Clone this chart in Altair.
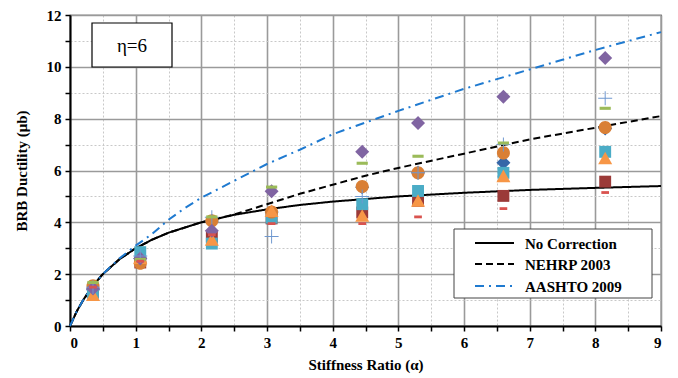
import altair as alt
import pandas as pd

# ---------------- data ----------------
alpha_pts = [0.35, 1.07, 2.16, 3.07, 4.45, 5.3, 6.6, 8.15]

series_names = ["S1", "S2", "S3", "S4", "S5", "S6", "S7", "S8", "S9"]
s1_blue_diamond = [1.40, 2.60, 4.05, 4.40, 5.35, 5.91, 6.30, 7.62]
s2_darkred_square = [1.30, 2.45, 3.45, 4.15, 4.38, 4.83, 5.02, 5.57]
s3_aqua_square = [1.28, 2.85, 3.18, 4.18, 4.70, 5.21, 5.91, 6.72]
s4_orange_circle = [1.55, 2.42, 4.06, 4.40, 5.38, 5.91, 6.68, 7.66]
s5_orange_triangle = [1.19, 2.62, 3.33, 4.44, 4.25, 4.83, 5.78, 6.47]
s6_purple_diamond = [1.45, 2.60, 3.68, 5.20, 6.72, 7.83, 8.85, 10.34]
s7_blue_plus = [1.50, 2.70, 4.20, 3.45, 5.00, 5.91, 7.00, 8.79]
s8_green_dash = [1.68, 2.57, 4.21, 5.36, 6.28, 6.55, 7.06, 8.40]
s9_red_dash = [1.50, 2.50, 3.52, 3.95, 3.95, 4.21, 4.53, 5.15]

series_values = [s1_blue_diamond, s2_darkred_square, s3_aqua_square, s4_orange_circle,
                 s5_orange_triangle, s6_purple_diamond, s7_blue_plus, s8_green_dash, s9_red_dash]
series_colors = ["#3566A8", "#9B3A38", "#4BACC6", "#D97F35", "#F79646",
                 "#8064A2", "#6F98D0", "#9BBB59", "#D9534F"]
series_shapes = [
    "M0,-1L1,0L0,1L-1,0Z",                                   # diamond
    "M-0.85,-0.85H0.85V0.85H-0.85Z",                          # square
    "M-0.85,-0.85H0.85V0.85H-0.85Z",                          # square
    "M0.93,0A0.93,0.93 0 1,1 -0.93,0A0.93,0.93 0 1,1 0.93,0Z",  # circle
    "M0,-0.95L1,0.85L-1,0.85Z",                               # triangle
    "M0,-1L1,0L0,1L-1,0Z",                                   # diamond
    "M-1,-0.07H1V0.07H-1Z M-0.07,-1H0.07V1H-0.07Z",           # plus
    "M-0.8,-0.22H0.8V0.22H-0.8Z",                             # dash
    "M-0.55,-0.2H0.55V0.2H-0.55Z",                            # small dash
]

no_corr_alpha = [0, 0.1, 0.2, 0.35, 0.5, 0.75, 1, 1.25, 1.5, 2, 2.5, 3, 3.5, 4, 5, 6, 7, 8, 9]
no_corr_mu = [0, 0.55, 1.0, 1.56, 2.0, 2.57, 3.0, 3.33, 3.6, 4.0, 4.29, 4.5, 4.67, 4.8, 5.0, 5.14, 5.25, 5.33, 5.4]

nehrp_alpha = [0, 0.1, 0.2, 0.35, 0.5, 0.75, 1, 1.25, 1.5, 2, 2.5, 3, 3.5, 4, 4.5, 5, 6, 7, 8, 9]
nehrp_mu = [0, 0.55, 1.0, 1.56, 2.0, 2.57, 3.0, 3.33, 3.6, 4.0, 4.3, 4.7, 5.1, 5.45, 5.8, 6.1, 6.65, 7.2, 7.65, 8.1]

aashto_alpha = [0, 0.1, 0.2, 0.35, 0.5, 0.75, 1, 1.25, 1.5, 1.75, 2, 2.5, 3, 3.5, 4, 5, 6, 7, 8, 9]
aashto_mu = [0, 0.55, 1.0, 1.56, 2.0, 2.6, 3.1, 3.55, 4.1, 4.55, 4.95, 5.6, 6.25, 6.8, 7.4, 8.3, 9.15, 9.9, 10.65, 11.34]

legend_labels = ["No Correction", "NEHRP 2003", "AASHTO 2009"]
legend_colors = ["#000000", "#000000", "#1F7AD0"]
legend_dashes = [[1, 0], [7, 4], [9, 5, 2, 5]]

x_ticks = [i * 0.5 for i in range(19)]
y_ticks = list(range(13))
eta_label = "η=6"

# ---------------- chart ----------------
W, H = 591, 311
SERIF = "Liberation Serif"

x_scale = alt.Scale(domain=[0, 9], nice=False)
y_scale = alt.Scale(domain=[0, 12], nice=False)

x_axis = alt.Axis(
    values=x_ticks,
    labelExpr="datum.value % 1 == 0 ? format(datum.value, 'd') : ''",
    title="Stiffness Ratio (α)",
    grid=True,
    gridDash={"condition": {"test": "datum.value % 1 != 0", "value": [2, 2]}, "value": [1, 0]},
    gridColor={"condition": {"test": "datum.value % 1 != 0", "value": "#C8C8C8"}, "value": "#9A9A9A"},
    gridWidth={"condition": {"test": "datum.value % 1 != 0", "value": 1}, "value": 1.6},
    orient="bottom",
)
y_axis = alt.Axis(
    values=y_ticks,
    labelExpr="datum.value % 2 == 0 ? format(datum.value, 'd') : ''",
    title="BRB Ductility (μb)",
    grid=True,
    gridDash={"condition": {"test": "datum.value % 2 != 0", "value": [2, 2]}, "value": [1, 0]},
    gridColor={"condition": {"test": "datum.value % 2 != 0", "value": "#C8C8C8"}, "value": "#9A9A9A"},
    gridWidth={"condition": {"test": "datum.value % 2 != 0", "value": 1}, "value": 1.6},
    orient="left",
)

def X():
    return alt.X("alpha:Q", scale=x_scale, axis=x_axis)

def Y():
    return alt.Y("mu:Q", scale=y_scale, axis=y_axis)

def line_layer(alpha, mu, color, dash):
    df = pd.DataFrame({"alpha": alpha, "mu": mu})
    return alt.Chart(df).mark_line(color=color, strokeDash=dash, strokeWidth=2).encode(x=X(), y=Y())

lines = [
    line_layer(no_corr_alpha, no_corr_mu, legend_colors[0], legend_dashes[0]),
    line_layer(nehrp_alpha, nehrp_mu, legend_colors[1], legend_dashes[1]),
    line_layer(aashto_alpha, aashto_mu, legend_colors[2], legend_dashes[2]),
]

rows = []
order = 0
for name, vals in zip(series_names, series_values):
    for a, v in zip(alpha_pts, vals):
        rows.append({"series": name, "alpha": a, "mu": v, "ord": order})
        order += 1
pts_df = pd.DataFrame(rows)

points = alt.Chart(pts_df).mark_point(filled=True, opacity=1, size=196, strokeWidth=0).encode(
    x=X(),
    y=Y(),
    color=alt.Color("series:N", scale=alt.Scale(domain=series_names, range=series_colors), legend=None),
    shape=alt.Shape("series:N", scale=alt.Scale(domain=series_names, range=series_shapes), legend=None),
    order=alt.Order("ord:Q"),
)

one = pd.DataFrame({"k": [0]})

# legend box (manual, matching the reference's boxed legend)
LX0, LX1, LY0, LY1 = 384, 582, 214, 283
legend_box = alt.Chart(one).mark_rect(fill="white", stroke="#444", strokeWidth=1).encode(
    x=alt.value(LX0), x2=alt.value(LX1), y=alt.value(LY0), y2=alt.value(LY1)
)
legend_parts = [legend_box]
row_y = [228, 249, 271]
for lab, col, dash, ry in zip(legend_labels, legend_colors, legend_dashes, row_y):
    legend_parts.append(
        alt.Chart(one).mark_rule(color=col, strokeDash=dash, strokeWidth=2).encode(
            x=alt.value(405), x2=alt.value(444), y=alt.value(ry)
        )
    )
    legend_parts.append(
        alt.Chart(pd.DataFrame({"t": [lab]})).mark_text(
            align="left", baseline="middle", font=SERIF, fontSize=15, fontWeight="bold", color="black"
        ).encode(x=alt.value(455), y=alt.value(ry + 1), text="t:N")
    )

eta_box = alt.Chart(one).mark_rect(fill="white", stroke="black", strokeWidth=1.2).encode(
    x=alt.value(22), x2=alt.value(102), y=alt.value(8), y2=alt.value(52)
)
eta_text = alt.Chart(pd.DataFrame({"t": [eta_label]})).mark_text(
    align="center", baseline="middle", font=SERIF, fontSize=19, color="black"
).encode(x=alt.value(62), y=alt.value(31), text="t:N")

chart = alt.layer(*lines, points, *legend_parts, eta_box, eta_text).properties(
    width=W, height=H,
    autosize=alt.AutoSizeParams(type="none"),
    padding={"left": 62, "top": 7, "right": 9, "bottom": 52},
).configure_view(
    stroke="#222", strokeWidth=1.2
).configure_axis(
    domainColor="black", domainWidth=2,
    tickColor="black", tickSize=5, tickWidth=1.5,
    labelFont=SERIF, labelFontSize=15, labelFontWeight="bold", labelColor="black",
    labelPadding=4,
    titleFont=SERIF, titleFontSize=15, titleFontWeight="bold", titleColor="black",
).configure_axisX(titlePadding=7).configure_axisY(titlePadding=17)

chart.save("out.html", embed_options={"renderer": "svg", "actions": False})
